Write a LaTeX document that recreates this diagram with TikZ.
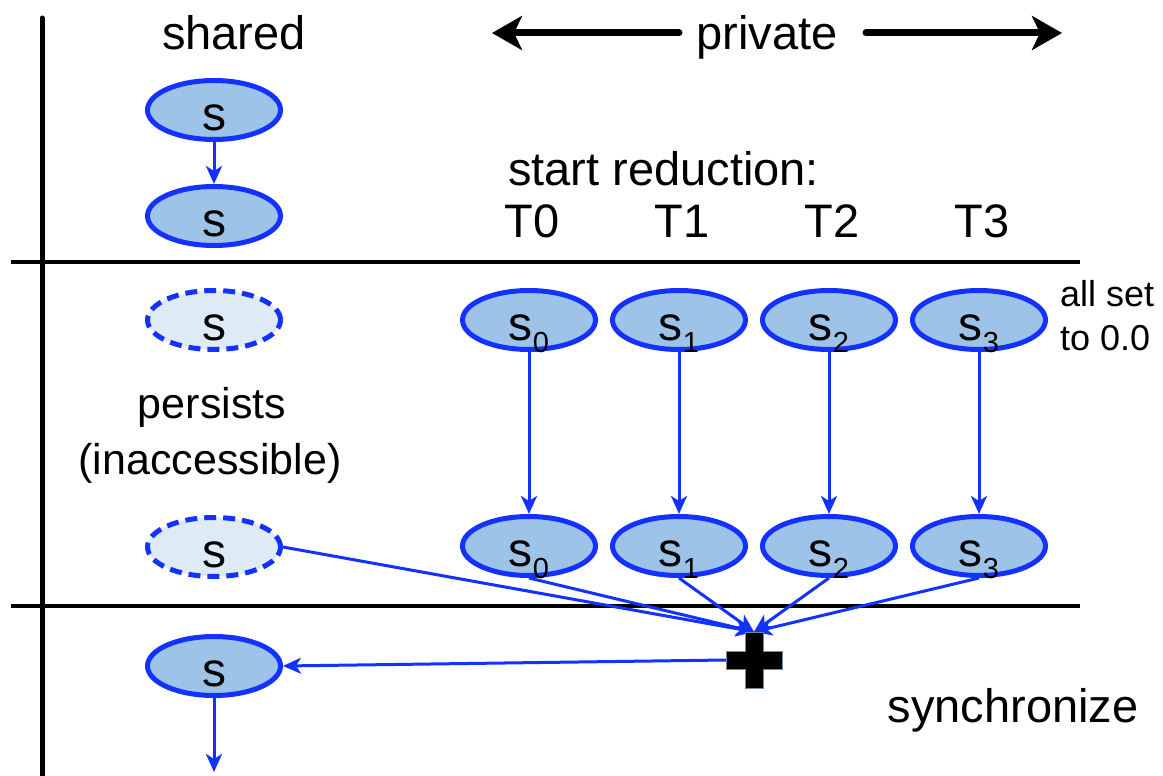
\documentclass[tikz,border=0pt]{standalone}
\usepackage{fontspec}
\setmainfont{Liberation Sans}
\usetikzlibrary{arrows.meta,shapes.geometric}
\definecolor{edgeblue}{RGB}{20,50,255}
\definecolor{fillblue}{RGB}{157,195,232}
\definecolor{paleblue}{RGB}{222,234,246}
\definecolor{crossedge}{RGB}{110,140,170}
\newcommand{\subvar}[1]{s\raisebox{-12pt}{\fontsize{29}{30}\selectfont #1}}

\begin{document}
\begin{tikzpicture}[x=1pt,y=-1pt,
  var/.style={ellipse, draw=edgeblue, line width=5pt, fill=fillblue,
    minimum width=133pt, minimum height=59pt, inner sep=0pt,
    text height=40pt, text depth=0pt, font=\fontsize{48}{54}\selectfont},
  ghost/.style={var, fill=paleblue, dash pattern=on 12pt off 7pt},
  flow/.style={draw=edgeblue, line width=3pt,
    -{Stealth[length=18pt,width=16pt,inset=5pt]}},
  big/.style={font=\fontsize{47}{54}\selectfont, inner sep=0pt},
  mid/.style={font=\fontsize{43}{50}\selectfont, inner sep=0pt},
  small/.style={font=\fontsize{36}{42}\selectfont, inner sep=0pt},
  rule/.style={line width=3.5pt},
  wide/.style={line width=7pt, line cap=round,
    -{Stealth[length=30pt,width=34pt,inset=8pt]}}
]
\useasboundingbox (0,0) rectangle (1163,776);

% frame: time axis and phase separators
\draw[line width=5pt, line cap=round] (42,18) -- (42,776);
\draw[rule] (11,262) -- (1080,262);
\draw[rule] (11,606) -- (1080,606);

% headings
\node[big, anchor=base] (shared) at (234,50) {shared};
\node[big, anchor=base] (private) at (767,50) {private};
\coordinate (pl) at (492,33);
\coordinate (pr) at (1062,33);
\draw[wide] (679,33) -- (pl);
\draw[wide] (866,33) -- (pr);

% shared variable before the region
\node[var] (sA) at (214,110) {s};
\node[var] (sB) at (214,216) {s};
\draw[flow] (sA.south) -- (sB.north);

\node[big, anchor=base west] (start) at (508,185) {start reduction:};
\node[big, anchor=base] (t0) at (532,237) {T0};
\node[big, anchor=base] (t1) at (682,237) {T1};
\node[big, anchor=base] (t2) at (832,237) {T2};
\node[big, anchor=base] (t3) at (982,237) {T3};

% inside the region
\node[ghost] (g1) at (214,320) {s};
\node[mid, anchor=base] (persists) at (212,418) {persists};
\node[mid, anchor=base] (inacc) at (210,474) {(inaccessible)};
\node[ghost] (g2) at (214,547) {s};

\foreach \i/\x in {0/529,1/679,2/829,3/979}{
  \node[var] (p\i) at (\x,320) {\subvar{\i}};
  \node[var] (q\i) at (\x,546) {\subvar{\i}};
  \draw[flow] (p\i.south) -- (q\i.north);
}

\node[small, anchor=base west] (allset) at (1060,306) {all set};
\node[small, anchor=base west] (tozero) at (1060,350) {to 0.0};

% combine step
\node[minimum size=56pt, inner sep=0pt] (plus) at (754,660) {};
\draw[flow] (g2.east) -- (plus.north);
\foreach \i in {0,1,2,3}{
  \draw[flow] (q\i.south) -- (plus.north);
}
\fill[black, draw=crossedge, line width=1pt]
  (745,632) -- (763,632) -- (763,651) -- (782,651) -- (782,669) -- (763,669)
  -- (763,688) -- (745,688) -- (745,669) -- (726,669) -- (726,651) -- (745,651) -- cycle;

% shared variable after the region
\node[var] (sC) at (214,666) {s};
\draw[flow] (plus.west) -- (sC.east);
\coordinate (down) at (214,772);
\draw[flow] (sC.south) -- (down);

\node[big, anchor=base] (sync) at (1013,722) {synchronize};
\end{tikzpicture}
\end{document}
